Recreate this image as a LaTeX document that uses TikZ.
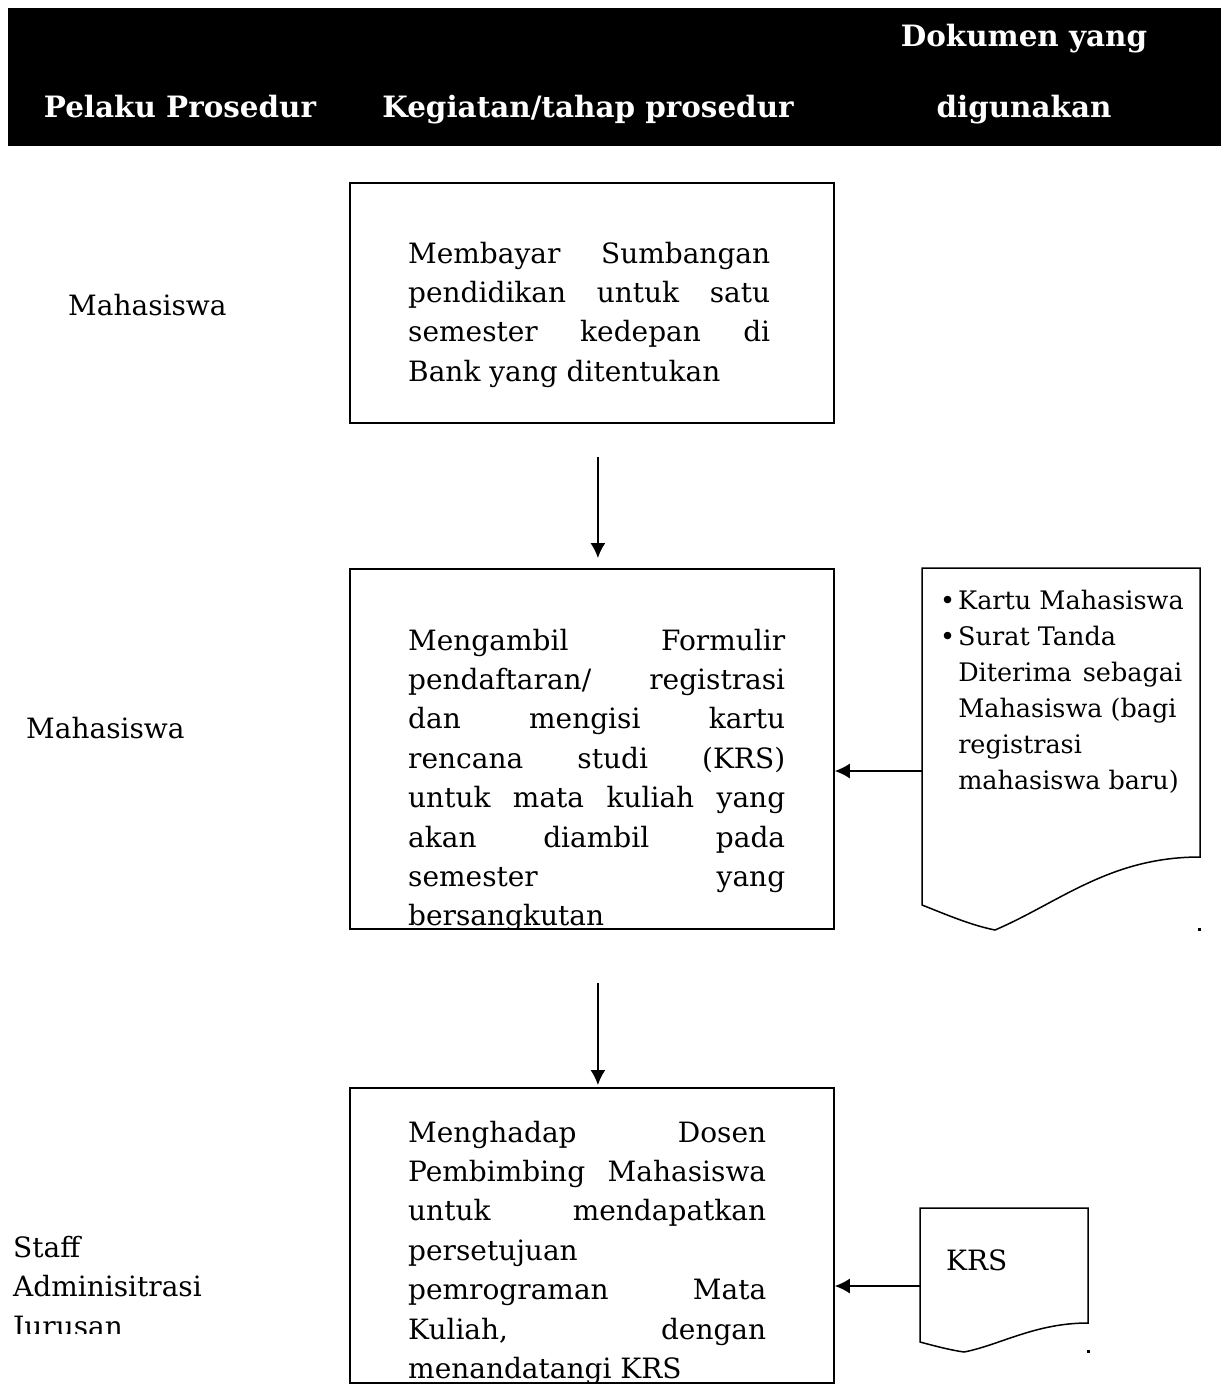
\documentclass[tikz,border=0pt]{standalone}
\usepackage{fontspec}
\setmainfont{DejaVu Serif}
\usepackage{tikz}
\usetikzlibrary{arrows.meta}
\usetikzlibrary{positioning}
\tikzset{
    block/.style={
           rectangle,
           draw=black, line width=1.8pt,
           minimum width=484pt,
           inner sep=0pt,
           anchor=north west,
           },
    bodytext/.style={
           font=\fontsize{28}{39.4}\selectfont,
           inner sep=0pt,
           anchor=base west,
           },
    headtext/.style={
           font=\fontsize{29.4}{34}\selectfont\bfseries,
           text=white,
           inner sep=0pt,
           anchor=base,
           },
    doctext/.style={
           font=\fontsize{25.5}{36}\selectfont,
           inner sep=0pt,
           anchor=base west,
           },
    docline/.style={
           draw=black, line width=1.5pt,
           },
    arr/.style={
           -{Latex[length=15pt,width=15pt]},
           line width=1.5pt,
           },
}

\begin{document}
\begin{tikzpicture}[x=1pt, y=-1pt]
	\useasboundingbox (0,0) rectangle (1221,1391);

	% kepala tabel
	\node[fill=black, minimum width=1213pt, minimum height=138pt, inner sep=0pt, anchor=north west] (header) at (8,8) {};
	\node[headtext] (hpelaku) at (180,118) {Pelaku Prosedur};
	\node[headtext] (hkegiatan) at (588,118) {Kegiatan/tahap prosedur};
	\node[headtext] (hdokumen) at (1024,47) {Dokumen yang};
	\node[headtext] (hdigunakan) at (1024,118) {digunakan};

	% pelaku
	\node[bodytext] (mhs1) at (68,315) {Mahasiswa};
	\node[bodytext] (mhs2) at (26,738) {Mahasiswa};
	\begin{scope}
		\clip (0,1225) rectangle (400,1333);
		\node[bodytext, align=left] (staff) at (13,1336) {Staff\\Adminisitrasi\\Jurusan};
	\end{scope}

	% kegiatan
	\node[block, minimum height=240pt] (box1) at (349,182) {};
	\node[bodytext, text width=362pt, align=justify] (txt1) at (408,263) {
		Membayar Sumbangan\linebreak pendidikan untuk satu\linebreak
		semester kedepan di\linebreak Bank yang ditentukan};

	\node[block, minimum height=360pt] (box2) at (349,568) {};
	\begin{scope}
		\clip (box2.north west) rectangle (box2.south east);
		\node[bodytext, text width=377pt, align=justify] (txt2) at (408,650) {
			Mengambil Formulir\linebreak pendaftaran/ registrasi\linebreak
			dan mengisi kartu\linebreak rencana studi (KRS)\linebreak
			untuk mata kuliah yang\linebreak akan diambil pada\linebreak
			semester yang\linebreak bersangkutan};
	\end{scope}

	\node[block, minimum height=295pt] (box3) at (349,1087) {};
	\begin{scope}
		\clip (box3.north west) rectangle (box3.south east);
		\node[bodytext, text width=358pt, align=justify] (txt3) at (408,1142) {
			Menghadap Dosen\linebreak Pembimbing Mahasiswa\linebreak
			untuk mendapatkan\linebreak persetujuan\newline
			pemrograman Mata\linebreak Kuliah, dengan\linebreak
			menandatangi KRS};
	\end{scope}

	% dokumen
	\draw[docline] (922,568) -- (1200,568) -- (1200,857)
		.. controls (1110,857) and (1060,902) .. (995,930)
		.. controls (970,925) and (945,914) .. (922,905) -- cycle;
	\node[doctext] (dok1) at (940,609) {
		\begin{tabular}[t]{@{}l@{\hspace{3pt}}p{224pt}@{}}
		\textbullet & \leavevmode\rlap{Kartu Mahasiswa}\\
		\textbullet & Surat Tanda\newline Diterima sebagai\linebreak
		Mahasiswa (bagi\newline registrasi\newline mahasiswa baru)
		\end{tabular}
	};
	\fill (1198,928) rectangle (1201,931);

	\draw[docline] (920,1208) -- (1088,1208) -- (1088,1323)
		.. controls (1035,1323) and (1000,1345) .. (964,1352)
		.. controls (950,1350) and (935,1346) .. (920,1342) -- cycle;
	\node[bodytext] (dok2) at (946,1270) {KRS};
	\fill (1087,1350) rectangle (1090,1353);

	\coordinate (d1in) at (922,771);
	\coordinate (d2in) at (920,1286);

	% panah
	\path[arr]	([xshift=6pt]box1.south) edge[shorten <=33pt, shorten >=10pt] ([xshift=6pt]box2.north)
				([xshift=6pt]box2.south) edge[shorten <=53pt, shorten >=2pt] ([xshift=6pt]box3.north);
	\path[arr]	(d1in) edge (d1in -| box2.east)
				(d2in) edge (d2in -| box3.east);

\end{tikzpicture}
\end{document}
